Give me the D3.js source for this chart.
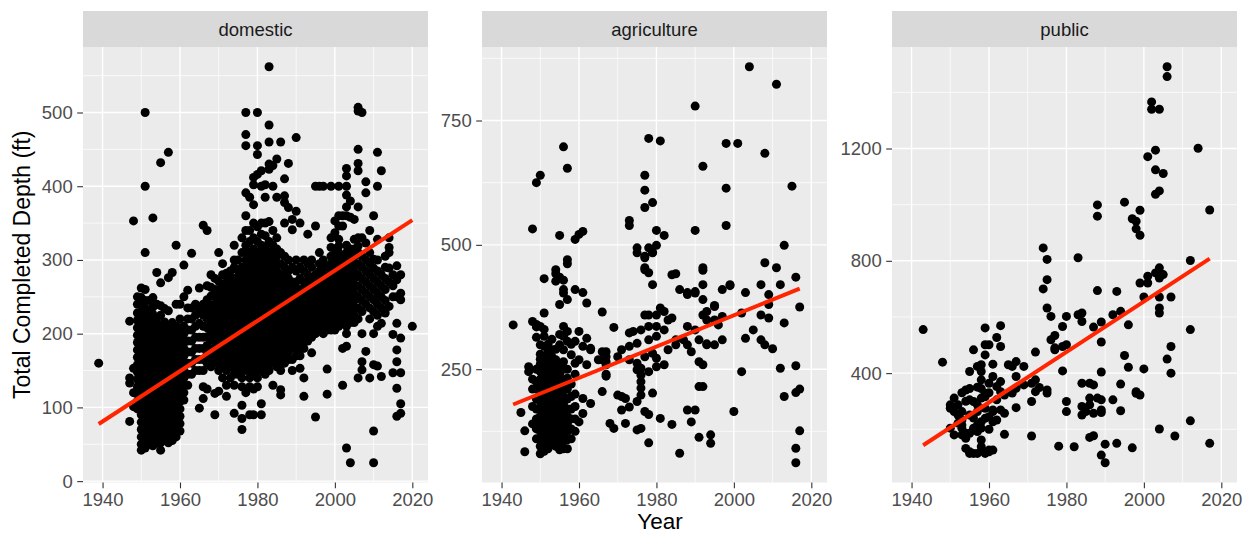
<!DOCTYPE html>
<html>
<head>
<meta charset="utf-8">
<script src="https://cdn.jsdelivr.net/npm/d3@7"></script>
<style>
  body { margin: 0; background: #fff; }
  svg text { font-family: "Liberation Sans", Arial, Helvetica, sans-serif; }
</style>
</head>
<body>
<svg id="chart" width="1252" height="535"></svg>
<script>
// Facets, in drawing order
const facets = ['domestic', 'agriculture', 'public'];
const xTicks = [1940, 1960, 1980, 2000, 2020];
const domesticTicks = [0, 100, 200, 300, 400, 500];
const agricultureTicks = [250, 500, 750];
const publicTicks = [400, 800, 1200];

// domestic wells: [year, [completed depths]]
const domesticByYear = [
  [1939, [160]],
  [1947, [81, 133, 140, 217]],
  [1948, [101, 120, 153, 353]],
  [1949, [98, 108, 118, 128, 138, 148, 158, 168, 178, 188, 198, 208, 218, 228, 240, 250]],
  [1950, [42, 50, 60, 70, 80, 90, 100, 110, 120, 130, 140, 150, 160, 170, 180, 190, 200, 210, 220, 230, 240, 249, 262]],
  [1951, [45, 55, 65, 75, 85, 95, 105, 115, 125, 135, 145, 155, 165, 175, 185, 195, 205, 215, 225, 235, 245, 260, 310, 400, 500]],
  [1952, [50, 58, 68, 78, 88, 98, 108, 118, 128, 138, 148, 158, 168, 178, 188, 198, 208, 218, 228, 245]],
  [1953, [48, 56, 66, 76, 86, 96, 106, 116, 126, 136, 146, 156, 166, 176, 186, 196, 206, 216, 226, 236, 249, 357]],
  [1954, [52, 62, 72, 82, 92, 102, 112, 122, 132, 142, 152, 162, 172, 182, 192, 202, 212, 222, 240, 283]],
  [1955, [42, 52, 62, 72, 82, 92, 102, 112, 122, 132, 142, 152, 162, 172, 182, 192, 202, 212, 225, 238, 269, 432]],
  [1956, [56, 66, 76, 86, 96, 106, 116, 126, 136, 146, 156, 166, 176, 186, 196, 206, 216, 234]],
  [1957, [52, 60, 70, 80, 90, 100, 110, 120, 130, 140, 150, 160, 170, 180, 190, 200, 210, 231, 276, 446]],
  [1958, [55, 65, 75, 85, 95, 105, 115, 125, 135, 145, 155, 165, 175, 185, 195, 205, 215, 283]],
  [1959, [60, 70, 80, 90, 100, 110, 120, 130, 140, 150, 160, 170, 180, 190, 200, 210, 240, 320]],
  [1960, [68, 78, 88, 98, 108, 118, 128, 138, 148, 158, 168, 178, 188, 198, 208, 220, 240]],
  [1961, [110, 120, 130, 140, 150, 160, 170, 180, 190, 200, 210, 250, 293]],
  [1962, [130, 145, 160, 175, 190, 205, 220, 235, 259]],
  [1963, [145, 160, 175, 190, 205, 220, 235, 309]],
  [1964, [150, 165, 180, 195, 210, 225, 240]],
  [1965, [99, 150, 165, 180, 195, 214, 233, 262]],
  [1966, [112, 128, 150, 165, 180, 195, 210, 225, 240, 347]],
  [1967, [125, 160, 172, 184, 196, 208, 220, 232, 246, 265, 340]],
  [1968, [155, 167, 179, 191, 203, 215, 227, 239, 251, 263, 280]],
  [1969, [90, 119, 160, 170, 180, 190, 200, 210, 220, 230, 240, 250, 260, 275]],
  [1970, [122, 150, 160, 170, 180, 190, 200, 210, 220, 230, 240, 250, 260, 271, 310]],
  [1971, [140, 155, 165, 175, 185, 195, 205, 215, 225, 235, 245, 255, 265, 280, 295]],
  [1972, [115, 130, 150, 160, 170, 180, 190, 200, 210, 220, 230, 240, 250, 260, 270, 282]],
  [1973, [140, 155, 165, 175, 185, 195, 205, 215, 225, 235, 245, 255, 265, 275, 285]],
  [1974, [92, 130, 145, 155, 165, 175, 185, 195, 205, 215, 225, 235, 245, 255, 265, 275, 290, 300, 320]],
  [1975, [145, 155, 165, 175, 185, 195, 205, 215, 225, 235, 245, 255, 265, 275, 285, 300]],
  [1976, [70, 85, 103, 128, 140, 150, 160, 170, 180, 190, 200, 210, 220, 230, 240, 250, 260, 270, 280, 290, 310, 330]],
  [1977, [120, 150, 160, 170, 180, 190, 200, 210, 220, 230, 240, 250, 260, 270, 280, 290, 300, 310, 320, 340, 360, 391, 455, 470, 500]],
  [1978, [90, 128, 140, 150, 160, 170, 180, 190, 200, 210, 220, 230, 240, 250, 260, 270, 280, 290, 300, 310, 325, 340, 385]],
  [1979, [90, 125, 145, 155, 165, 175, 185, 195, 205, 215, 225, 235, 245, 255, 265, 275, 285, 295, 305, 315, 330, 350, 375, 402, 412]],
  [1980, [128, 140, 150, 160, 170, 180, 190, 200, 210, 220, 230, 240, 250, 260, 270, 280, 290, 300, 310, 325, 345, 416, 443, 455, 500]],
  [1981, [90, 105, 150, 160, 170, 180, 190, 200, 210, 220, 230, 240, 250, 260, 270, 280, 290, 300, 310, 320, 335, 350, 400, 421]],
  [1982, [145, 155, 165, 175, 185, 195, 205, 215, 225, 235, 245, 255, 265, 275, 285, 295, 305, 318, 333, 350, 385, 402]],
  [1983, [150, 160, 170, 180, 190, 200, 210, 220, 230, 240, 250, 260, 270, 280, 290, 300, 310, 325, 352, 423, 430, 460, 483, 562]],
  [1984, [130, 160, 170, 180, 190, 200, 210, 220, 230, 240, 250, 260, 270, 280, 290, 300, 310, 320, 340, 400, 428]],
  [1985, [155, 165, 175, 185, 195, 205, 215, 225, 235, 245, 255, 265, 275, 285, 295, 305, 315, 330, 385, 437]],
  [1986, [117, 124, 150, 160, 170, 180, 190, 200, 210, 220, 230, 240, 250, 260, 270, 280, 295, 310, 460]],
  [1987, [160, 170, 180, 190, 200, 210, 220, 230, 240, 250, 260, 270, 280, 290, 305, 350, 378, 387, 410]],
  [1988, [165, 175, 185, 195, 205, 215, 225, 235, 245, 255, 265, 275, 285, 300, 371, 431]],
  [1989, [150, 165, 180, 190, 200, 210, 220, 230, 240, 250, 260, 270, 290, 341, 355]],
  [1990, [170, 180, 190, 200, 210, 220, 230, 240, 250, 260, 270, 285, 300, 366, 466]],
  [1991, [153, 170, 180, 190, 200, 210, 220, 230, 240, 250, 260, 275, 290, 350]],
  [1992, [115, 140, 180, 190, 200, 210, 220, 230, 240, 250, 260, 270, 285, 300]],
  [1993, [190, 200, 210, 220, 230, 240, 250, 260, 270, 280, 295, 335]],
  [1994, [174, 195, 205, 215, 225, 235, 245, 255, 265, 275, 290, 300]],
  [1995, [87, 200, 210, 220, 230, 240, 250, 260, 270, 280, 346, 400]],
  [1996, [205, 215, 225, 235, 245, 255, 265, 275, 285, 295, 310, 400]],
  [1997, [200, 210, 220, 230, 240, 250, 260, 270, 280, 290, 300, 400]],
  [1998, [118, 152, 205, 215, 225, 235, 245, 255, 265, 275, 290]],
  [1999, [205, 215, 225, 235, 245, 255, 265, 275, 285, 295, 305, 317, 330, 400]],
  [2000, [205, 215, 225, 235, 245, 255, 265, 275, 285, 295, 305, 315, 337, 353]],
  [2001, [210, 220, 230, 240, 250, 260, 270, 280, 290, 300, 310, 319, 328, 346, 360, 400]],
  [2002, [130, 180, 215, 225, 235, 245, 255, 265, 275, 285, 295, 305, 346, 360]],
  [2003, [45, 183, 200, 210, 220, 230, 240, 250, 260, 270, 280, 290, 300, 310, 320, 360, 372, 388, 400, 414, 424]],
  [2004, [25, 215, 225, 235, 245, 255, 265, 275, 285, 295, 305, 315, 358, 380]],
  [2005, [215, 225, 235, 245, 255, 265, 275, 285, 295, 305, 315, 328, 355]],
  [2006, [140, 220, 235, 250, 265, 280, 295, 310, 319, 330, 372, 421, 431, 450, 502, 507]],
  [2007, [151, 162, 200, 230, 245, 260, 275, 290, 305, 330, 500]],
  [2008, [176, 240, 255, 270, 285, 300, 323, 391, 406]],
  [2009, [140, 220, 235, 250, 265, 280, 295, 310, 340]],
  [2010, [25, 68, 158, 200, 230, 246, 260, 275, 289, 301, 360]],
  [2011, [156, 210, 225, 240, 255, 270, 285, 300, 328, 400, 446]],
  [2012, [142, 214, 235, 250, 265, 280, 421]],
  [2013, [228, 245, 260, 275, 290, 305]],
  [2014, [237, 270, 289, 310, 317, 330]],
  [2015, [147, 199, 250, 265, 280]],
  [2016, [88, 126, 162, 178, 214, 250, 273, 292]],
  [2017, [92, 105, 147, 194, 246, 255, 280]],
  [2020, [210]]
];

// agriculture wells: scattered [year, depth] plus the dense early block
const agriculturePoints = [
  [2004, 858], [2011, 823], [1990, 779], [1978, 714], [1981, 709], [1956, 697], [1998, 704], [2001, 704],
  [2008, 684], [1957, 654], [1992, 658], [1950, 640], [1949, 625], [1977, 640], [1977, 610], [1998, 614],
  [2015, 618], [1979, 585], [1977, 575], [1973, 549], [1973, 539], [1948, 532], [1955, 519], [1959, 511],
  [1960, 521], [1961, 527], [1980, 529], [1982, 519], [1990, 529], [1998, 539], [2013, 499], [1975, 494],
  [1975, 484], [1977, 474], [1978, 494], [1979, 484], [1980, 499], [1957, 470], [1957, 462], [2008, 464],
  [2011, 454], [1992, 454], [1977, 454], [1954, 450],
  [1951, 432], [1954, 442], [1955, 435], [1954, 427], [1956, 429], [1956, 410], [1956, 403], [1957, 390],
  [1955, 380], [1959, 410], [1961, 404], [1962, 383], [1951, 363], [1943, 339], [1948, 346], [1949, 335],
  [1949, 314], [1951, 316], [1951, 296], [1952, 289], [1953, 289], [1956, 336], [1957, 326], [1960, 326],
  [1962, 312], [1956, 316], [1957, 306], [1959, 306], [1961, 296], [1963, 292], [1966, 365], [1969, 334],
  [1967, 285], [1977, 477], [1979, 485], [1977, 450], [1978, 444], [1979, 420], [1984, 440], [1985, 442],
  [1992, 449], [1986, 410], [1988, 404], [1990, 406], [1992, 420], [1992, 390], [1995, 378], [1997, 410],
  [1999, 420], [2003, 404], [2007, 420], [2009, 400], [2009, 380], [2012, 420], [2016, 435], [2017, 375],
  [1981, 373], [1978, 359], [1977, 359], [1983, 349], [1984, 353], [1992, 359], [1993, 366], [1995, 349],
  [1996, 339], [1993, 349], [2002, 363], [2003, 312], [2005, 329], [2007, 359], [2009, 353], [2013, 343],
  [2007, 309], [2008, 299], [2010, 291], [2002, 245], [2012, 252], [2016, 257], [1988, 336], [1990, 329],
  [1987, 309], [1988, 299], [1991, 309], [1993, 299], [1995, 299], [1997, 309], [1989, 285], [1991, 265],
  [1992, 259], [1985, 299], [1985, 309],
  [1973, 323], [1974, 326], [1976, 329], [1978, 336], [1980, 336], [1982, 329], [1980, 316], [1978, 309],
  [1975, 302], [1973, 296], [1971, 289], [1970, 275], [1973, 269], [1975, 262], [1977, 275], [1979, 282],
  [1980, 272], [1982, 259], [1975, 249], [1978, 245], [1980, 255], [1983, 289], [1980, 359], [1982, 366],
  [1950, 299], [1952, 282], [1954, 269], [1956, 289], [1958, 279], [1959, 262], [1960, 269], [1963, 289],
  [1962, 259], [1965, 269], [1966, 269], [1967, 259], [1967, 240], [1947, 255], [1947, 245], [1949, 340],
  [1950, 336], [1951, 330], [1955, 299], [1966, 285], [1967, 275], [1967, 265], [1967, 236], [1966, 205],
  [1950, 270], [1952, 300], [1953, 310], [1954, 290], [1955, 320], [1956, 265], [1957, 250], [1958, 300],
  [1953, 250], [1952, 265],
  [1945, 163], [1946, 126], [1946, 84], [1961, 191], [1961, 161], [1960, 144], [1963, 181], [1968, 141],
  [1969, 131], [1972, 141], [1970, 198], [1971, 195], [1972, 191], [1973, 174], [1971, 168], [1975, 128],
  [1976, 131], [1978, 102], [1975, 185], [1976, 198], [1976, 212], [1976, 225], [1976, 238], [1976, 252],
  [1977, 165], [1978, 159], [1979, 202], [1981, 151], [1984, 139], [1986, 81], [1988, 168], [1990, 168],
  [1989, 144], [1991, 113], [1991, 215], [1992, 215], [1994, 118], [1994, 101], [2000, 165], [2013, 195],
  [2016, 203], [2017, 210], [2017, 126], [2016, 91], [2016, 62], [1993, 301], [1995, 376], [1997, 356],
  [1999, 418], [1988, 400], [1990, 403]
];
const agricultureByYear = [
  [1948, [140, 175, 210, 230]],
  [1949, [110, 130, 150, 170, 190, 210, 225, 250]],
  [1950, [80, 95, 110, 125, 140, 155, 170, 185, 200, 215, 230, 245, 260, 280]],
  [1951, [85, 100, 115, 130, 145, 160, 175, 190, 205, 220, 235, 250, 270]],
  [1952, [90, 105, 120, 135, 150, 165, 180, 195, 210, 225, 240, 258]],
  [1953, [100, 115, 130, 145, 160, 175, 190, 205, 220, 235, 250, 275]],
  [1954, [95, 110, 125, 140, 155, 170, 185, 200, 215, 230, 245, 262]],
  [1955, [88, 100, 115, 130, 145, 160, 175, 190, 205, 220, 240, 255]],
  [1956, [90, 105, 120, 135, 150, 165, 180, 195, 210, 228, 250]],
  [1957, [90, 108, 125, 140, 155, 170, 190, 210, 232]],
  [1958, [110, 130, 150, 170, 195, 220]],
  [1959, [125, 150, 175, 200, 240]]
];

// public supply wells: [year, depth]
const publicPoints = [
  [2006, 1491], [2006, 1456], [2002, 1366], [2002, 1340], [2004, 1340], [2003, 1194], [2001, 1171], [2003, 1124],
  [2005, 1111], [2003, 1037], [2004, 1049], [2014, 1201], [2017, 981], [1995, 1009], [1999, 980], [1997, 950],
  [1998, 941], [1998, 914], [1999, 891], [1988, 999], [1988, 959], [1974, 846], [1975, 805], [1983, 811],
  [2012, 801], [2004, 775], [1943, 555], [1948, 439], [1975, 733], [1974, 700], [1975, 632], [1976, 602],
  [1980, 602], [1988, 694], [1993, 691], [1999, 721], [2001, 745], [2001, 721], [2003, 757], [2004, 739],
  [2005, 751], [2000, 671], [2004, 671], [2007, 671], [2004, 632], [2004, 614], [2012, 555], [1983, 608],
  [1984, 614], [1984, 584], [1987, 564], [1979, 566], [1980, 501], [1989, 582], [1989, 511], [1992, 608],
  [1994, 620], [1996, 572], [1976, 519], [1977, 534], [1977, 483], [1979, 408], [1989, 404], [1995, 463],
  [1996, 421], [2000, 415], [2007, 495], [2006, 450], [2007, 400], [1994, 361], [1998, 334], [1999, 322],
  [1998, 328], [1992, 305], [1994, 266], [1984, 364], [1986, 364], [1987, 358], [1988, 311], [1989, 305],
  [1989, 269], [1989, 260], [1986, 311], [1986, 287], [1985, 263], [1987, 257], [1984, 251], [1984, 281],
  [1980, 299], [1980, 263], [2004, 201], [2008, 176], [2012, 230], [2017, 150], [1997, 134], [1993, 150],
  [1990, 147], [1989, 108], [1990, 81], [1982, 138], [1978, 140], [1986, 171], [1987, 177], [1971, 176],
  [1964, 182], [1956, 483], [1959, 561], [1959, 501], [1960, 501], [1959, 465], [1958, 430], [1961, 432],
  [1962, 527], [1963, 569], [1963, 495], [1957, 424], [1955, 406], [1958, 406], [1958, 376], [1960, 364],
  [1961, 388], [1963, 370], [1964, 322], [1963, 334], [1962, 305], [1964, 257], [1963, 269], [1961, 269],
  [1965, 430], [1966, 424], [1967, 441], [1967, 388], [1969, 424], [1967, 277], [1954, 340], [1951, 311],
  [1950, 287], [1950, 275], [1951, 263], [1952, 251], [1950, 204], [1951, 180], [1953, 204], [1954, 186],
  [1956, 204], [1954, 168], [1954, 132], [1955, 120], [1957, 114], [1958, 138], [1958, 162], [1959, 120],
  [1960, 126], [1961, 126], [1955, 305], [1956, 299], [1958, 311], [1959, 316], [1959, 328], [1959, 275],
  [1959, 239], [1961, 227], [1961, 263], [1958, 204], [1952, 287], [1953, 263], [1953, 233], [1955, 251],
  [1957, 287], [1957, 263], [1958, 227], [1966, 329], [1967, 346], [1969, 358], [1971, 364], [1971, 299],
  [1972, 376], [1972, 334], [1973, 349], [1975, 340], [1975, 329], [1972, 475], [1977, 490], [1979, 495],
  [1955, 114], [1956, 114], [1959, 114], [1960, 120], [1953, 180], [1955, 186], [1957, 192], [1952, 222],
  [1953, 215], [1956, 240], [1957, 215], [1960, 245], [1962, 233], [1960, 200], [1957, 350], [1958, 345],
  [1960, 330], [1962, 352], [1955, 345], [1953, 330], [1954, 300]
];

// lm fit lines, start and end
const domesticFit = [[1939, 77.5], [2020, 354]];
const agricultureFit = [[1943, 179], [2017, 412]];
const publicFit = [[1943, 143], [2017, 808]];

const flatten = rows => rows.flatMap(([year, depths]) => depths.map(d => [year, d]));

const panels = [
    { name: facets[0], points: flatten(domesticByYear), ticks: domesticTicks, fit: domesticFit, left: 83 },
    { name: facets[1], points: agriculturePoints.concat(flatten(agricultureByYear)), ticks: agricultureTicks, fit: agricultureFit, left: 482 },
    { name: facets[2], points: publicPoints, ticks: publicTicks, fit: publicFit, left: 892 }
];

const panelWidth = 345;
const stripTop = 11;
const plotTop = 47;
const plotBottom = 482.5;
const tickLen = 5.8;

const svg = d3.select('#chart');
svg.append('rect').attr('width', 1252).attr('height', 535).attr('fill', '#ffffff');

// shared x scale (facet_wrap with free y)
const allYears = panels.flatMap(p => p.points.map(d => d[0]));
const [xMin, xMax] = d3.extent(allYears);
const xPad = (xMax - xMin) * 0.05;

// minor breaks halfway between the majors
function minorBreaks(ticks, lo, hi) {
    const step = ticks[1] - ticks[0];
    const out = [];
    for (let v = ticks[0] - step / 2; v <= hi; v += step) {
        if (v >= lo) out.push(v);
    }
    return out;
}

panels.forEach((p, i) => {
    const x = d3.scaleLinear()
        .domain([xMin - xPad, xMax + xPad])
        .range([p.left, p.left + panelWidth]);
    const [yLo, yHi] = d3.extent(p.points, d => d[1]);
    const yPad = (yHi - yLo) * 0.05;
    const y = d3.scaleLinear()
        .domain([yLo - yPad, yHi + yPad])
        .range([plotBottom, plotTop]);

    const g = svg.append('g').attr('class', 'panel-' + p.name);

    // strip
    g.append('rect')
        .attr('x', p.left).attr('y', stripTop)
        .attr('width', panelWidth).attr('height', plotTop - stripTop)
        .attr('fill', '#D9D9D9');
    g.append('text')
        .attr('x', p.left + panelWidth / 2)
        .attr('y', 35.5)
        .attr('text-anchor', 'middle')
        .style('font-size', '18.5px')
        .style('fill', '#1A1A1A')
        .text(p.name);

    // panel background
    g.append('rect')
        .attr('x', p.left).attr('y', plotTop)
        .attr('width', panelWidth).attr('height', plotBottom - plotTop)
        .attr('fill', '#EBEBEB');

    const clipId = 'clip' + i;
    svg.append('clipPath').attr('id', clipId)
        .append('rect')
        .attr('x', p.left).attr('y', plotTop)
        .attr('width', panelWidth).attr('height', plotBottom - plotTop);

    const grid = g.append('g').attr('clip-path', `url(#${clipId})`);
    const xd = x.domain(), yd = y.domain();

    grid.selectAll('.xminor')
        .data(minorBreaks(xTicks, xd[0], xd[1]))
        .enter().append('line')
        .attr('x1', d => x(d)).attr('x2', d => x(d))
        .attr('y1', plotTop).attr('y2', plotBottom)
        .attr('stroke', '#FFFFFF').attr('stroke-width', 0.7);
    grid.selectAll('.yminor')
        .data(minorBreaks(p.ticks, yd[0], yd[1]))
        .enter().append('line')
        .attr('x1', p.left).attr('x2', p.left + panelWidth)
        .attr('y1', d => y(d)).attr('y2', d => y(d))
        .attr('stroke', '#FFFFFF').attr('stroke-width', 0.7);
    grid.selectAll('.xmajor')
        .data(xTicks)
        .enter().append('line')
        .attr('x1', d => x(d)).attr('x2', d => x(d))
        .attr('y1', plotTop).attr('y2', plotBottom)
        .attr('stroke', '#FFFFFF').attr('stroke-width', 1.4);
    grid.selectAll('.ymajor')
        .data(p.ticks)
        .enter().append('line')
        .attr('x1', p.left).attr('x2', p.left + panelWidth)
        .attr('y1', d => y(d)).attr('y2', d => y(d))
        .attr('stroke', '#FFFFFF').attr('stroke-width', 1.4);

    // points
    grid.append('g')
        .selectAll('circle')
        .data(p.points)
        .enter().append('circle')
        .attr('cx', d => x(d[0]))
        .attr('cy', d => y(d[1]))
        .attr('r', 4.5)
        .attr('fill', '#000000');

    // fitted line
    grid.append('path')
        .datum(p.fit)
        .attr('d', d3.line().x(d => x(d[0])).y(d => y(d[1])))
        .attr('fill', 'none')
        .attr('stroke', '#FF2500')
        .attr('stroke-width', 4);

    // x axis
    const xAxis = d3.axisBottom(x).tickValues(xTicks).tickFormat(d3.format('d'))
        .tickSize(tickLen).tickPadding(4.5);
    const gx = g.append('g').attr('transform', `translate(0,${plotBottom})`).call(xAxis);
    gx.select('.domain').remove();
    gx.selectAll('.tick line').attr('stroke', '#333333').attr('stroke-width', 1.1);
    gx.selectAll('.tick text')
        .attr('fill', '#4D4D4D')
        .style('font-size', '18.5px')
        .attr('dy', '0.72em');

    // y axis
    const yAxis = d3.axisLeft(y).tickValues(p.ticks).tickFormat(d3.format('d'))
        .tickSize(tickLen).tickPadding(4.5);
    const gy = g.append('g').attr('transform', `translate(${p.left},0)`).call(yAxis);
    gy.select('.domain').remove();
    gy.selectAll('.tick line').attr('stroke', '#333333').attr('stroke-width', 1.1);
    gy.selectAll('.tick text')
        .attr('fill', '#4D4D4D')
        .style('font-size', '18.5px');
});

// axis titles
svg.append('text')
    .attr('x', (83 + 892 + panelWidth) / 2)
    .attr('y', 529)
    .attr('text-anchor', 'middle')
    .style('font-size', '22.5px')
    .style('fill', '#000000')
    .text('Year');
svg.append('text')
    .attr('transform', `translate(30,${(plotTop + plotBottom) / 2}) rotate(-90)`)
    .attr('text-anchor', 'middle')
    .style('font-size', '23px')
    .style('fill', '#000000')
    .text('Total Completed Depth (ft)');
</script>
</body>
</html>
